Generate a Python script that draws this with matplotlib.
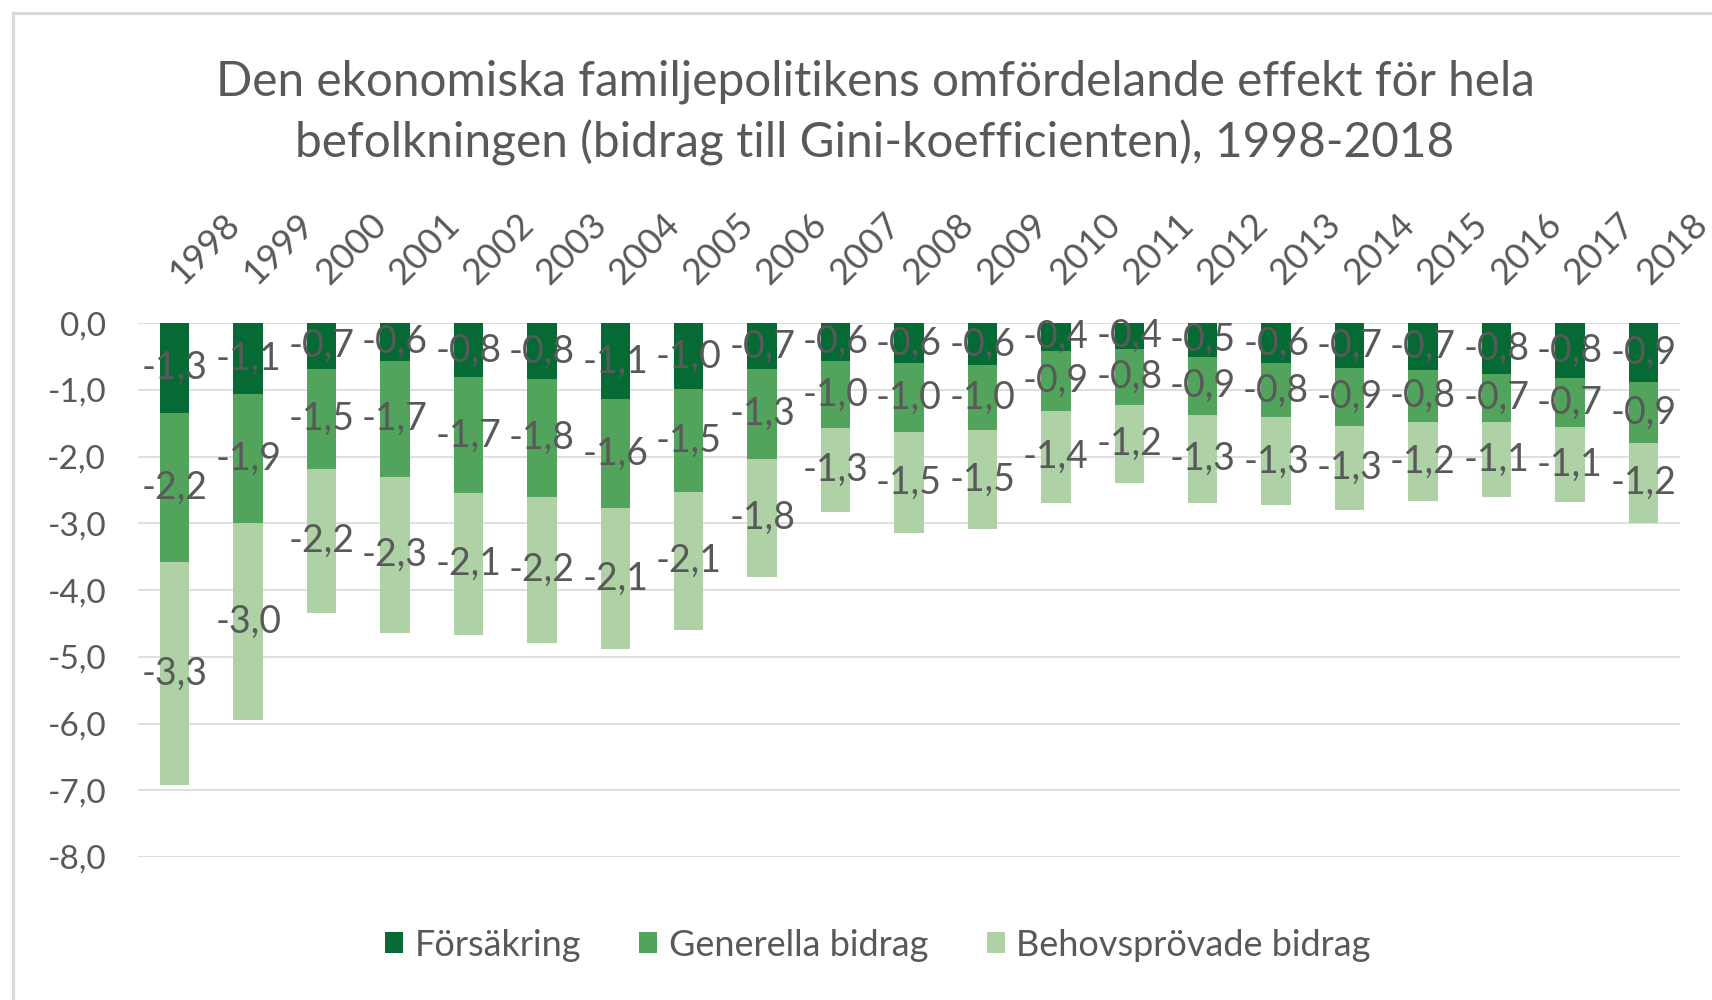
import matplotlib
matplotlib.use("Agg")
import matplotlib.pyplot as plt
from matplotlib.lines import Line2D
from matplotlib.patches import Patch
import numpy as np

# ---- data (labels show one decimal) ----
years = ["1998", "1999", "2000", "2001", "2002", "2003", "2004", "2005", "2006", "2007",
         "2008", "2009", "2010", "2011", "2012", "2013", "2014", "2015", "2016", "2017", "2018"]
forsakring = [-1.34, -1.06, -0.68, -0.56, -0.81, -0.84, -1.14, -0.99, -0.69, -0.56, -0.60,
              -0.63, -0.41, -0.38, -0.50, -0.60, -0.67, -0.70, -0.76, -0.82, -0.88]
generella = [-2.24, -1.93, -1.50, -1.74, -1.74, -1.76, -1.63, -1.54, -1.34, -1.01, -1.03,
             -0.97, -0.91, -0.84, -0.88, -0.81, -0.87, -0.78, -0.72, -0.74, -0.91]
behov = [-3.34, -2.96, -2.16, -2.34, -2.12, -2.19, -2.11, -2.06, -1.77, -1.26, -1.52,
         -1.49, -1.37, -1.18, -1.31, -1.32, -1.26, -1.19, -1.12, -1.12, -1.21]
series_names = ["Försäkring", "Generella bidrag", "Behovsprövade bidrag"]
yticks = [0.0, -1.0, -2.0, -3.0, -4.0, -5.0, -6.0, -7.0, -8.0]
title = ("Den ekonomiska familjepolitikens omfördelande effekt för hela\n"
         "befolkningen (bidrag till Gini-koefficienten), 1998-2018")

# ---- style ----
colors = ["#056A34", "#52A35B", "#AED2A5"]
txt = "#595959"
grid = "#D9D9D9"
plt.rcParams["font.family"] = ["Lato", "DejaVu Sans"]


def fmt(v):
    return f"{v:.1f}".replace(".", ",")


fig = plt.figure(figsize=(17.12, 10), dpi=100)
W, H = 1712, 1000
ax = fig.add_axes([138 / W, 1 - 857 / H, (1680 - 138) / W, (857 - 323.3) / H])

x = np.arange(len(years))
f = np.array(forsakring)
g = np.array(generella)
b = np.array(behov)
bw = 0.40
c1 = ax.bar(x, f, width=bw, color=colors[0], label=series_names[0], zorder=2)
c2 = ax.bar(x, g, width=bw, bottom=f, color=colors[1], label=series_names[1], zorder=2)
c3 = ax.bar(x, b, width=bw, bottom=f + g, color=colors[2], label=series_names[2], zorder=2)

for cont, vals in ((c1, f), (c2, g), (c3, b)):
    ax.bar_label(cont, labels=[fmt(v) for v in vals], label_type="center",
                 fontsize=27, color=txt, zorder=3)

ax.set_xlim(-0.5, len(years) - 0.5)
ax.set_ylim(-8, 0)
ax.set_yticks(yticks)
ax.set_yticklabels([fmt(v) for v in yticks])
ax.yaxis.grid(True, color=grid, linewidth=1.2, zorder=0)
ax.set_axisbelow(True)
for s in ax.spines.values():
    s.set_visible(False)
ax.tick_params(axis="y", length=0, pad=23, labelsize=24, labelcolor=txt)

ax.xaxis.tick_top()
ax.set_xticks(x)
ax.set_xticklabels(years, rotation=45, ha="left", va="center", rotation_mode="anchor")
ax.tick_params(axis="x", length=0, pad=32, labelsize=26, labelcolor=txt)

fig.text(875 / W, 1 - 157 / H, title, ha="center", va="baseline", fontsize=34.4,
         color=txt, linespacing=1.42)

handles = [Patch(facecolor=c, edgecolor="none") for c in colors]
fig.legend(handles, series_names, loc="center", bbox_to_anchor=(878 / W, 1 - 945 / H),
           ncol=3, frameon=False, fontsize=26, labelcolor=txt,
           handlelength=0.5, handleheight=0.5, handletextpad=0.33,
           columnspacing=1.6)

# chart frame (left and top edges visible)
fig.add_artist(Line2D([13 / W, 13 / W], [0, 1 - 13 / H], color=grid, lw=2.2,
                      transform=fig.transFigure))
fig.add_artist(Line2D([13 / W, 1], [1 - 13 / H, 1 - 13 / H], color=grid, lw=2.2,
                      transform=fig.transFigure))

fig.savefig("out.png", dpi=100, facecolor="white")
